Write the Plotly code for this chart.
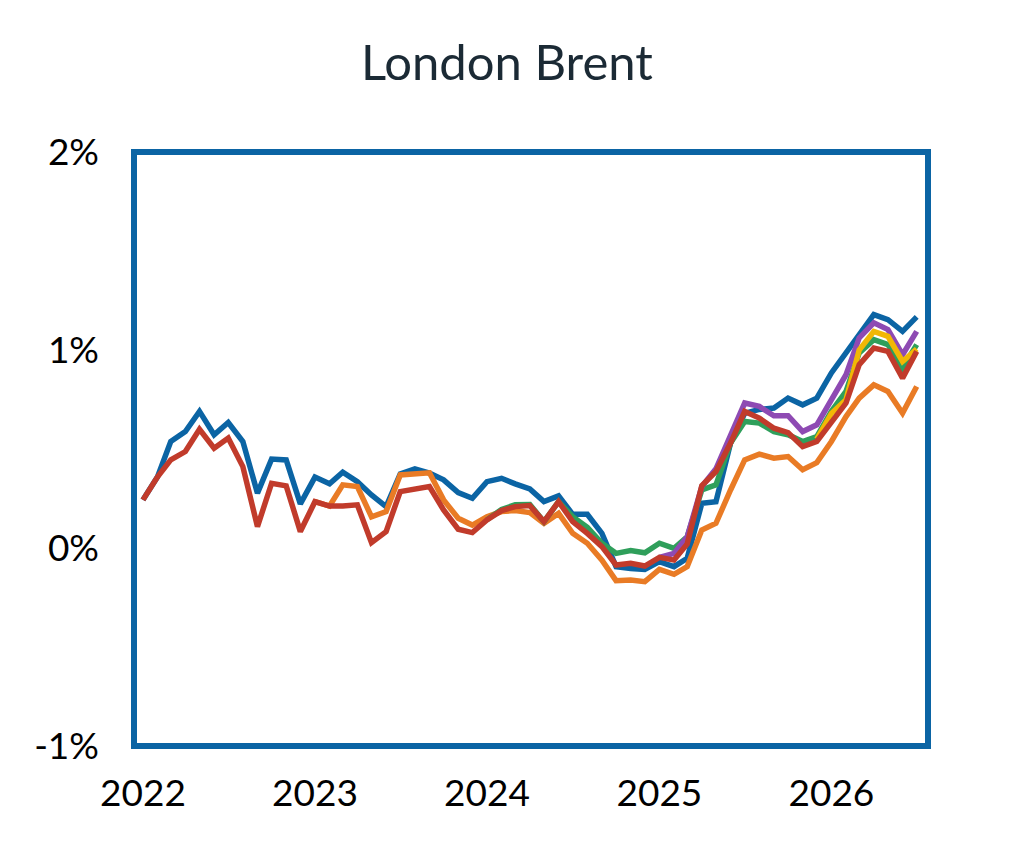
import pandas as pd
import plotly.graph_objs as go

# monthly series, Jan 2022 .. Jul 2026 (values in %)
months = pd.date_range("2022-01-01", "2026-07-01", freq="MS")

blue_vals = [0.243, 0.36, 0.538, 0.588, 0.69, 0.572, 0.634, 0.538, 0.277, 0.449,
             0.445, 0.223, 0.358, 0.324, 0.383, 0.335, 0.268, 0.209, 0.374, 0.40,
             0.378, 0.344, 0.28, 0.251, 0.335, 0.352, 0.324, 0.298, 0.234, 0.263,
             0.170, 0.170, 0.074, -0.094, -0.103, -0.108, -0.069, -0.094, -0.052, 0.226,
             0.234, 0.53, 0.68, 0.70, 0.707, 0.757, 0.723, 0.757, 0.884, 0.985,
             1.086, 1.179, 1.153, 1.094, 1.167]

orange_vals = [None] * 12 + [
             0.234, 0.212, 0.319, 0.31, 0.158, 0.184, 0.369, 0.378,
             0.38, 0.243, 0.15, 0.116, 0.158, 0.184, 0.189, 0.179, 0.125, 0.175,
             0.074, 0.024, -0.061, -0.165, -0.162, -0.170, -0.108, -0.133, -0.094, 0.091,
             0.125, 0.293, 0.445, 0.474, 0.454, 0.462, 0.395, 0.431, 0.538, 0.664,
             0.757, 0.824, 0.791, 0.681, 0.816]

green_vals = [None] * 24 + [
             0.142, 0.195, 0.218, 0.22, 0.133, 0.234,
             0.158, 0.105, 0.024, -0.027, -0.013, -0.024, 0.024, -0.002, 0.057, 0.293,
             0.319, 0.53, 0.639, 0.631, 0.588, 0.572, 0.538, 0.563, 0.69, 0.791,
             0.985, 1.052, 1.027, 0.909, 1.027]

purple_vals = [None] * 36 + [
             -0.047, -0.027, 0.057, 0.31,
             0.40, 0.563, 0.732, 0.715, 0.668, 0.668, 0.588, 0.622, 0.749, 0.875,
             1.061, 1.137, 1.103, 0.976, 1.094]

yellow_vals = [None] * 47 + [
             0.55, 0.68, 0.749,
             1.0, 1.094, 1.069, 0.942, 1.005]

red_vals = [0.243, 0.36, 0.445, 0.487, 0.60, 0.504, 0.555, 0.411, 0.108, 0.327,
            0.314, 0.083, 0.234, 0.212, 0.212, 0.218, 0.027, 0.083, 0.285, 0.295,
            0.31, 0.192, 0.095, 0.078, 0.142, 0.189, 0.209, 0.214, 0.133, 0.234,
            0.133, 0.074, 0.007, -0.086, -0.077, -0.091, -0.047, -0.061, 0.02, 0.315,
            0.386, 0.53, 0.69, 0.656, 0.605, 0.583, 0.512, 0.538, 0.631, 0.732,
            0.926, 1.010, 0.993, 0.858, 0.993]

y_ticks = [-1, 0, 1, 2]
y_labels = ["-1%", "0%", "1%", "2%"]

BLUE = "#0B64A4"
series = [
    (blue_vals, BLUE),
    (orange_vals, "#E97B25"),
    (green_vals, "#2F9F5B"),
    (purple_vals, "#8E4AB3"),
    (yellow_vals, "#F2B705"),
    (red_vals, "#C13B2B"),
]

fig = go.Figure()
for vals, col in series:
    fig.add_trace(go.Scatter(x=months, y=vals, mode="lines",
                             line=dict(color=col, width=5.5), showlegend=False))

fig.update_layout(
    width=1014, height=844,
    margin=dict(l=126, r=94, t=144, b=106),
    paper_bgcolor="white", plot_bgcolor="white",
    font=dict(family="Lato", size=37, color="black"),
    title=dict(text="London Brent", x=0.492, xref="container", xanchor="center",
               y=1 - 55 / 844, yanchor="middle",
               font=dict(family="Lato", size=49, color="#1B2A35")),
    shapes=[dict(type="rect", xref="paper", yref="paper", x0=0, x1=1, y0=0, y1=1,
                 line=dict(color=BLUE, width=6))],
)
fig.update_xaxes(range=["2021-12-13", "2026-07-25"], tick0="2022-01-01", dtick="M12",
                 tickformat="%Y", showgrid=False, zeroline=False, showline=False,
                 ticks="", ticklabelstandoff=22)
fig.update_yaxes(range=[-1, 2], tickvals=y_ticks, ticktext=y_labels,
                 showgrid=False, zeroline=False, showline=False,
                 ticks="", ticklabelstandoff=34)

fig.write_html("out.html")
